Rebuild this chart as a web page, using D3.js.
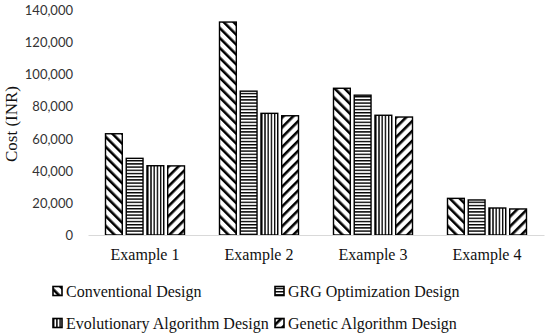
<!DOCTYPE html>
<html>
<head>
<meta charset="utf-8">
<script src="https://cdn.jsdelivr.net/npm/d3@7"></script>
<style>
  body { margin: 0; background: #fff; }
  svg { display: block; }
  .tick text { font-family: Lato, "Open Sans", sans-serif; font-size: 13px; fill: #333; }
  .serif { font-family: "Liberation Serif", "DejaVu Serif", serif; fill: #111; }
</style>
</head>
<body>
<svg width="550" height="333"></svg>
<script>
var categories = ["Example 1", "Example 2", "Example 3", "Example 4"];
var seriesNames = ["Conventional Design", "GRG Optimization Design", "Evolutionary Algorithm Design", "Genetic Algorithm Design"];
var conventional = [63000, 132500, 91300, 22800];
var grg = [47700, 89500, 87000, 21800];
var evolutionary = [43100, 75700, 74500, 16800];
var genetic = [43000, 74200, 73400, 16200];
var yTicks = [0, 20000, 40000, 60000, 80000, 100000, 120000, 140000];

var series = [conventional, grg, evolutionary, genetic];
var patternIds = ["pDown", "pHoriz", "pVert", "pUp"];

var svg = d3.select("svg");
var defs = svg.append("defs");

// diagonal "\" wide
var p = defs.append("pattern").attr("id", "pDown").attr("patternUnits", "userSpaceOnUse")
    .attr("width", 7).attr("height", 7).attr("patternTransform", "rotate(-45)");
p.append("rect").attr("width", 7).attr("height", 7).attr("fill", "#fff");
p.append("rect").attr("x", 0).attr("width", 2.6).attr("height", 7).attr("fill", "#000");

p = defs.append("pattern").attr("id", "pHoriz").attr("patternUnits", "userSpaceOnUse")
    .attr("width", 4).attr("height", 3.2);
p.append("rect").attr("width", 4).attr("height", 3.2).attr("fill", "#fff");
p.append("rect").attr("y", 0).attr("width", 4).attr("height", 1.4).attr("fill", "#000");

p = defs.append("pattern").attr("id", "pVert").attr("patternUnits", "userSpaceOnUse")
    .attr("width", 3.2).attr("height", 4);
p.append("rect").attr("width", 3.2).attr("height", 4).attr("fill", "#fff");
p.append("rect").attr("x", 0).attr("width", 1.4).attr("height", 4).attr("fill", "#000");

p = defs.append("pattern").attr("id", "pUp").attr("patternUnits", "userSpaceOnUse")
    .attr("width", 7).attr("height", 7).attr("patternTransform", "rotate(45)");
p.append("rect").attr("width", 7).attr("height", 7).attr("fill", "#fff");
p.append("rect").attr("x", 0).attr("width", 2.6).attr("height", 7).attr("fill", "#000");

var x0 = d3.scaleBand().domain(categories).range([88, 544])
    .paddingInner(0.307).paddingOuter(0.1535);
var x1 = d3.scaleBand().domain(d3.range(series.length)).range([0, x0.bandwidth()])
    .paddingInner(0.19);
var y = d3.scaleLinear().domain([0, 140000]).range([235, 10]);

// y axis (labels only)
var yAxis = svg.append("g").attr("transform", "translate(76,0)")
    .call(d3.axisLeft(y).tickValues(yTicks).tickSize(0).tickPadding(3).tickFormat(d3.format(",")));
yAxis.select(".domain").remove();
yAxis.selectAll(".tick text").attr("dy", "0.35em");

// bars
var groups = svg.selectAll("g.grp").data(categories).enter().append("g")
    .attr("class", "grp")
    .attr("transform", function(d) { return "translate(" + x0(d) + ",0)"; });

groups.selectAll("rect").data(function(d, i) {
    return series.map(function(s, j) { return { j: j, v: s[i] }; });
  }).enter().append("rect")
    .attr("x", function(d) { return x1(d.j); })
    .attr("y", function(d) { return y(d.v); })
    .attr("width", x1.bandwidth())
    .attr("height", function(d) { return y(0) - y(d.v); })
    .attr("fill", function(d) { return "url(#" + patternIds[d.j] + ")"; })
    .attr("stroke", "#000")
    .attr("stroke-width", 1.4);

// x axis
var xAxis = svg.append("g").attr("transform", "translate(0," + y(0) + ")")
    .call(d3.axisBottom(x0).tickSize(0).tickPadding(14));
xAxis.select(".domain").attr("stroke", "#d9d9d9").attr("stroke-width", 1.2);
xAxis.selectAll(".tick text").attr("class", "serif").style("font-family", "'Liberation Serif', serif")
    .style("font-size", "16px").style("fill", "#111");

// y title
svg.append("text").attr("class", "serif")
    .attr("transform", "translate(17,124) rotate(-90)")
    .attr("text-anchor", "middle")
    .style("font-size", "17px")
    .text("Cost (INR)");

// legend
var legPos = [[53, 291], [275, 291], [53, 323], [275, 323]];
var leg = svg.selectAll("g.leg").data(seriesNames).enter().append("g")
    .attr("class", "leg")
    .attr("transform", function(d, i) { return "translate(" + legPos[i][0] + "," + legPos[i][1] + ")"; });
leg.append("rect").attr("x", 0).attr("y", -4.5).attr("width", 9).attr("height", 9)
    .attr("fill", function(d, i) { return "url(#" + patternIds[i] + ")"; })
    .attr("stroke", "#000").attr("stroke-width", 1.6);
leg.append("text").attr("class", "serif").attr("x", 13).attr("dy", "0.35em")
    .style("font-size", "16px")
    .text(function(d) { return d; });
</script>
</body>
</html>
